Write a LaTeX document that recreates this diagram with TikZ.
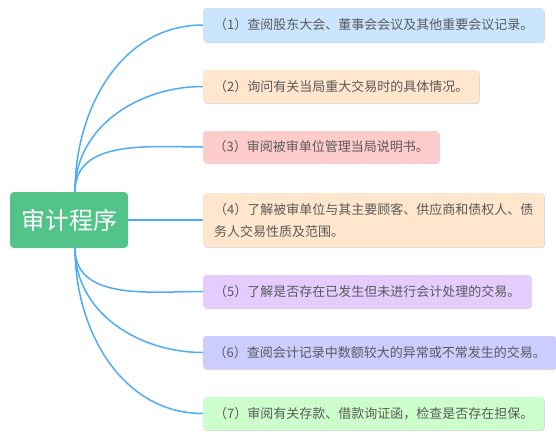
\documentclass[tikz,border=0pt]{standalone}
\usepackage{fontspec}
\newfontfamily\cjk{Noto Sans CJK SC}
\definecolor{rootgreen}{RGB}{82, 196, 138}
\definecolor{branchblue}{RGB}{77, 172, 245}
\definecolor{textgray}{RGB}{90, 90, 90}
\definecolor{fillblue}{RGB}{204, 229, 255}
\definecolor{fillpeach}{RGB}{255, 230, 204}
\definecolor{fillpink}{RGB}{255, 204, 204}
\definecolor{filllilac}{RGB}{229, 204, 255}
\definecolor{fillperi}{RGB}{204, 204, 255}
\definecolor{fillmint}{RGB}{204, 255, 204}
\usetikzlibrary{shadows,backgrounds}
\tikzset{
  rootbox/.style={fill=rootgreen, rounded corners=4pt, text=white, minimum width=118pt,
    minimum height=56pt, inner sep=0pt, font=\cjk\fontsize{24}{28}\selectfont},
  stepbox/.style={fill=#1, rounded corners=3pt, anchor=west, minimum height=33pt, inner sep=0pt,
    text=textgray, font=\cjk\fontsize{13}{22}\selectfont,
    drop shadow={shadow xshift=0.6pt, shadow yshift=-1pt, opacity=0.25, fill=black!60}},
  branch/.style={draw=branchblue, line width=1.5pt},
}

\begin{document}
\begin{tikzpicture}[x=1pt, y=-1pt]
    \useasboundingbox (0,0) rectangle (556,439);
    \node[rootbox] (root) at (69,220) {审计程序};
    % steps
    \node[stepbox=fillblue, minimum width=341pt, minimum height=34pt] (s1) at (203,25) {（1）查阅股东大会、董事会会议及其他重要会议记录。};
    \node[stepbox=fillpeach, minimum width=276pt] (s2) at (203,86.5) {（2）询问有关当局重大交易时的具体情况。};
    \node[stepbox=fillpink, minimum width=236pt, minimum height=32pt] (s3) at (203,147) {（3）审阅被审单位管理当局说明书。};
    \node[stepbox=fillpeach, minimum width=341pt, minimum height=54pt, align=left] (s4) at (203,220)
        {（4）了解被审单位与其主要顾客、供应商和债权人、债\\务人交易性质及范围。};
    \node[stepbox=filllilac, minimum width=328pt] (s5) at (203,291.5) {（5）了解是否存在已发生但未进行会计处理的交易。};
    \node[stepbox=fillperi, minimum width=353pt] (s6) at (203,352.5) {（6）查阅会计记录中数额较大的异常或不常发生的交易。};
    \node[stepbox=fillmint, minimum width=341pt] (s7) at (203,413.5) {（7）审阅有关存款、借款询证函，检查是否存在担保。};
    % branches
    \begin{pgfonlayer}{background}
    \foreach \s in {s1,s2,s3}
        \draw[branch] (root.78) to[out=90, in=180] (\s.west);
    \foreach \s in {s5,s6,s7}
        \draw[branch] (root.-78) to[out=-90, in=180] (\s.west);
    \draw[branch] (root.east) -- (s4.west);
    \end{pgfonlayer}
\end{tikzpicture}
\end{document}
